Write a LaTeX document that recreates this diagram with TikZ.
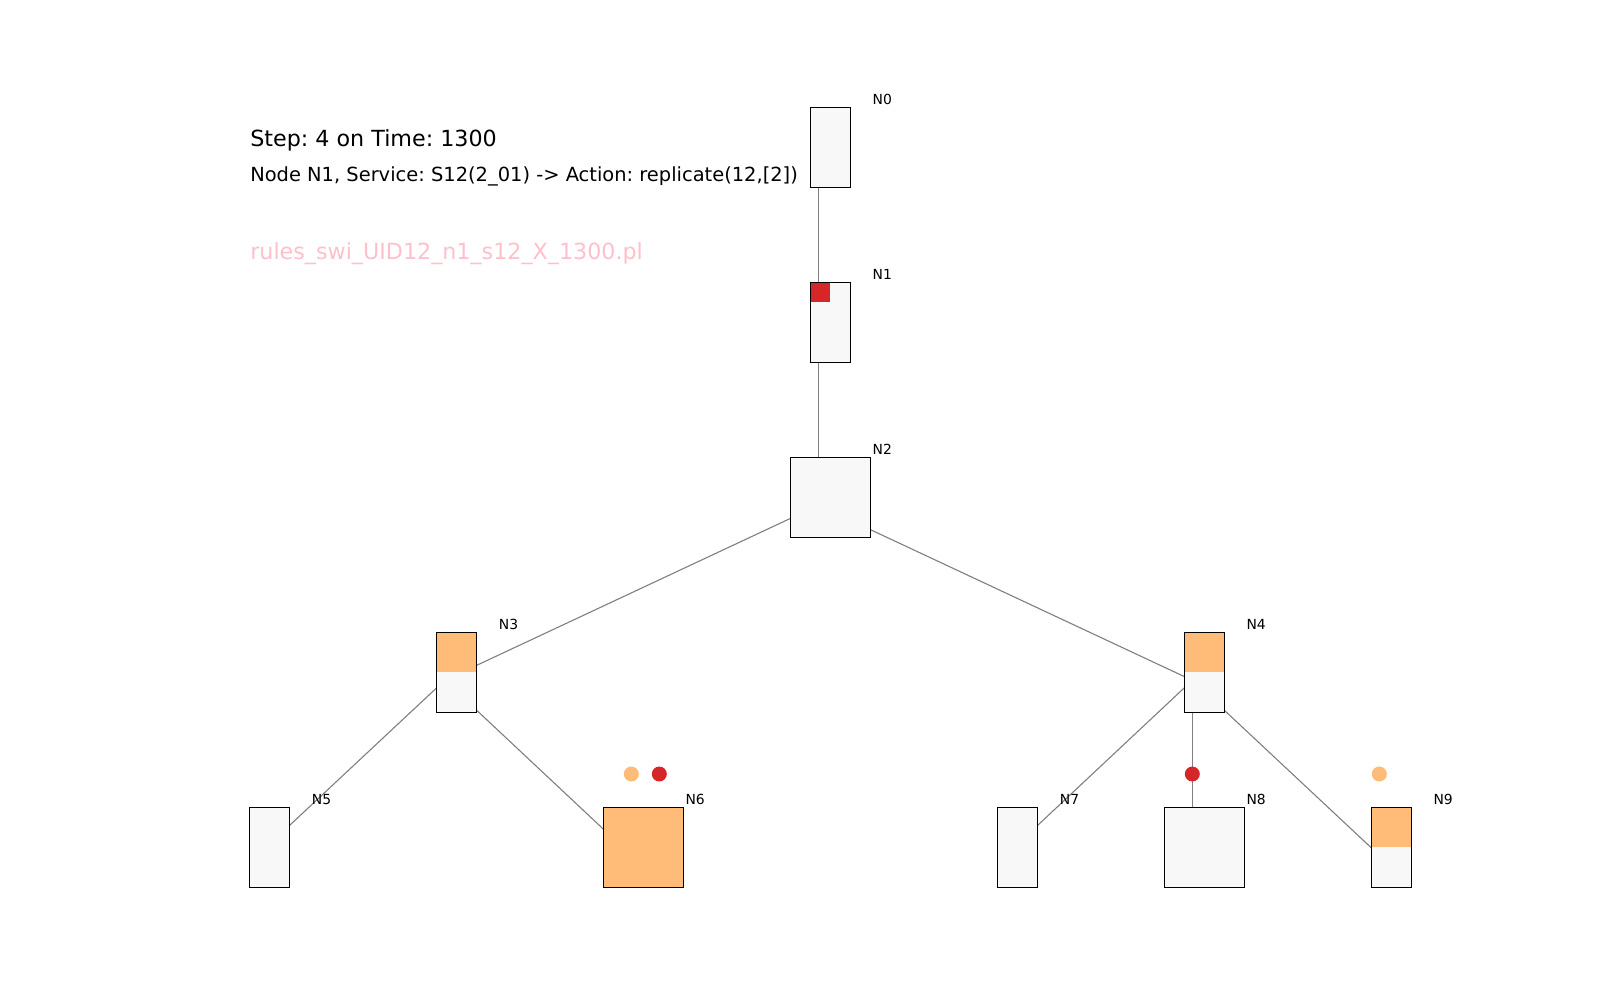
\documentclass[tikz,border=0pt]{standalone}
\usepackage{fontspec}
\setmainfont{DejaVu Sans}
\frenchspacing
\definecolor{boxfill}{HTML}{F8F8F8}
\definecolor{lorange}{HTML}{FFBB78}
\definecolor{tred}{HTML}{D62728}
\definecolor{edgegray}{HTML}{808080}
\definecolor{pinktxt}{HTML}{FFC0CB}
\begin{document}
\begin{tikzpicture}[x=0.72bp,y=-0.72bp,
  edge/.style={draw=edgegray,line width=0.8bp},
  smallbox/.style={rectangle,draw=black,fill=boxfill,line width=0.85bp,inner sep=0pt,minimum width=28.8bp,minimum height=57.6bp},
  bigbox/.style={smallbox,minimum width=57.6bp},
  halforange/.style={path picture={\fill[lorange] (path picture bounding box.north west) rectangle (path picture bounding box.east);}},
  redcorner/.style={path picture={\fill[tred] (path picture bounding box.north west) rectangle ++(20,20);}},
  lbl/.style={anchor=west,inner sep=0pt,font=\fontsize{10.04}{12}\selectfont},
  dot/.style={circle,inner sep=0pt,minimum size=10.8bp},
  txt/.style={anchor=base west,inner sep=0pt}]
\useasboundingbox (0,0) rectangle (1600,1000);
% anchor points of the tree
\coordinate (p0) at (818.4,155.3);
\coordinate (p1) at (818.4,330.3);
\coordinate (p2) at (818.4,505.3);
\coordinate (p3) at (444.7,680.3);
\coordinate (p4) at (1192.3,680.3);
\coordinate (p5) at (257.6,855.3);
\coordinate (p6) at (631.3,855.3);
\coordinate (p7) at (1005.7,855.3);
\coordinate (p8) at (1192.3,855.3);
\coordinate (p9) at (1379.3,855.3);
% edges
\draw[edge] (p0) -- (p1);
\draw[edge] (p1) -- (p2);
\draw[edge] (p2) -- (p3);
\draw[edge] (p2) -- (p4);
\draw[edge] (p3) -- (p5);
\draw[edge] (p3) -- (p6);
\draw[edge] (p4) -- (p7);
\draw[edge] (p4) -- (p8);
\draw[edge] (p4) -- (p9);
% boxes
\node[smallbox] (N0) at (830.4,147.3) {};
\node[smallbox,redcorner] (N1) at (830.4,322.3) {};
\node[bigbox] (N2) at (830.4,497.3) {};
\node[smallbox,halforange] (N3) at (456.7,672.3) {};
\node[smallbox,halforange] (N4) at (1204.3,672.3) {};
\node[smallbox] (N5) at (269.6,847.3) {};
\node[bigbox,fill=lorange] (N6) at (643.3,847.3) {};
\node[smallbox] (N7) at (1017.7,847.3) {};
\node[bigbox] (N8) at (1204.3,847.3) {};
\node[smallbox,halforange] (N9) at (1391.3,847.3) {};
% labels
\node[lbl] (L0) at (872.4,99.3) {N0};
\node[lbl] (L1) at (872.4,274.3) {N1};
\node[lbl] (L2) at (872.4,449.3) {N2};
\node[lbl] (L3) at (498.7,624.3) {N3};
\node[lbl] (L4) at (1246.3,624.3) {N4};
\node[lbl] (L5) at (311.6,799.3) {N5};
\node[lbl] (L6) at (685.3,799.3) {N6};
\node[lbl] (L7) at (1059.7,799.3) {N7};
\node[lbl] (L8) at (1246.3,799.3) {N8};
\node[lbl] (L9) at (1433.3,799.3) {N9};
% dots
\node[dot,fill=lorange] (d6a) at (631.3,774) {};
\node[dot,fill=tred] (d6b) at (659.3,774) {};
\node[dot,fill=tred] (d8) at (1192.3,774) {};
\node[dot,fill=lorange] (d9) at (1379.3,774) {};
% texts
\node[txt,font=\fontsize{16.06}{19}\selectfont] (title) at (250,146) {Step: 4 on Time: 1300};
\node[txt,font=\fontsize{14.05}{17}\selectfont] (action) at (250,181) {Node N1, Service: S12(2\_01) -> Action: replicate(12,[2])};
\node[txt,text=pinktxt,font=\fontsize{16.06}{19}\selectfont] (rules) at (250,259) {rules\_swi\_UID12\_n1\_s12\_X\_1300.pl};
\end{tikzpicture}
\end{document}
